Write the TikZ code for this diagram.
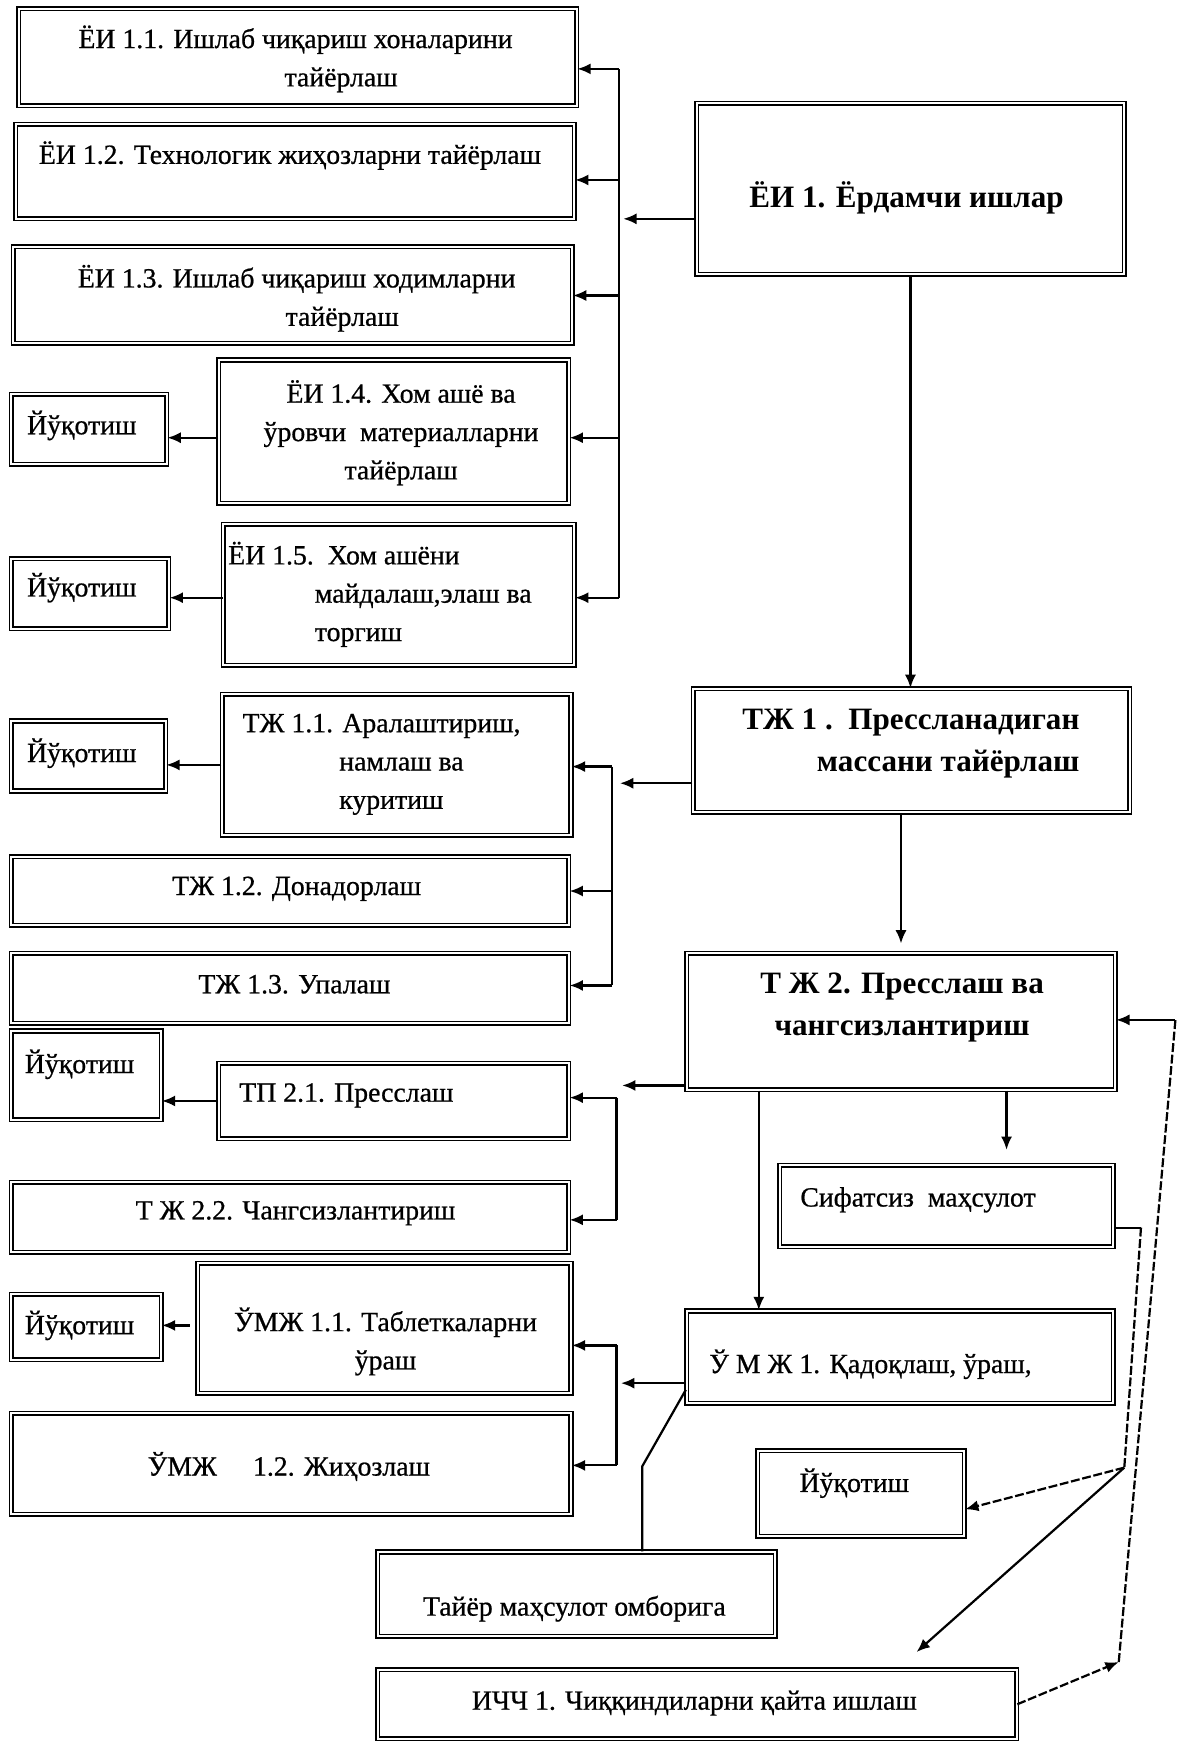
\documentclass[tikz,border=0pt]{standalone}
\usepackage{fontspec}
\setmainfont{Liberation Serif}
\newfontfamily\scanfont{Liberation Serif}[FakeBold=0.7]
\usetikzlibrary{arrows.meta,calc}
\newcommand\bx[5]{\node[bx, minimum width={(#4-#2)*0.5pt}, minimum height={(#5-#3)*0.5pt}] (#1) at ({(#2+#4)/2},{(#3+#5)/2}) {};}
\begin{document}
\begin{tikzpicture}[x=0.5pt,y=-0.5pt,
  bx/.style={draw=black, line width=0.7pt, double=white, double distance=0.9pt, rectangle, inner sep=0pt, fill=white},
  tx/.style={inner sep=0pt, font=\scanfont\fontsize{12.5}{17.25}\selectfont},
  txb/.style={inner sep=0pt, font=\fontsize{14}{18.75}\selectfont\bfseries},
  ln/.style={line width=1pt},
  arr/.style={ln, -{Latex[length=6pt,width=5pt]}},
  dsh/.style={dash pattern=on 4pt off 1.2pt}]
\fill[white] (0,0) rectangle (1061,1568);
\useasboundingbox (0,0) rectangle (1061,1568);

% boxes and texts
\bx{ei11}{17}{8}{519}{95}
\node[tx,align=center] (ei11t) at (266,53) {ЁИ 1.1. Ишлаб чиқариш хоналарини\\\hspace*{41pt}тайёрлаш};
\bx{ei12}{14}{112}{517}{197}
\node[tx] (ei12t) at (261,140) {ЁИ 1.2. Технологик жиҳозларни тайёрлаш};
\bx{ei13}{12}{222}{515}{309}
\node[tx,align=center] (ei13t) at (267,268.5) {ЁИ 1.3. Ишлаб чиқариш ходимларни\\\hspace*{41pt}тайёрлаш};
\bx{y1}{10}{355}{150}{418}
\node[tx,anchor=west] (y1t) at (24,383) {Йўқотиш};
\bx{ei14}{197}{324}{512}{453}
\node[tx,align=center] (ei14t) at (361,389.5) {ЁИ 1.4. Хом ашё ва\\ўровчи\ \ материалларни\\тайёрлаш};
\bx{y2}{10}{503}{152}{566}
\node[tx,anchor=west] (y2t) at (24,529) {Йўқотиш};
\bx{ei15}{201}{472}{517}{599}
\node[tx,anchor=west,align=left] (ei15t) at (205,535) {ЁИ 1.5.\ \ Хом ашёни\\\hspace*{39pt}майдалаш,элаш ва\\\hspace*{39pt}торгиш};
\bx{ei1}{627}{93}{1012}{247}
\node[txb] (ei1t) at (816,178) {ЁИ 1. Ёрдамчи ишлар};
\bx{tj1}{624}{620}{1017}{731}
\node[txb,anchor=east,align=right] (tj1t) at (972,669.5) {ТЖ 1 .\ \ Прессланадиган\\массани тайёрлаш};
\bx{y3}{10}{649}{149}{712}
\node[tx,anchor=west] (y3t) at (24,678) {Йўқотиш};
\bx{tj11}{200}{625}{514}{752}
\node[tx,anchor=west,align=left] (tj11t) at (218,688) {ТЖ 1.1. Аралаштириш,\\\hspace*{43.5pt}намлаш ва\\\hspace*{43.5pt}куритиш};
\bx{tj12}{10}{771}{512}{833}
\node[tx] (tj12t) at (267,800) {ТЖ 1.2. Донадорлаш};
\bx{tj13}{10}{858}{512}{921}
\node[tx] (tj13t) at (265,886) {ТЖ 1.3. Упалаш};
\bx{tj2}{618}{858}{1004}{981}
\node[txb,align=center] (tj2t) at (812,907) {Т Ж 2. Пресслаш ва\\чангсизлантириш};
\bx{y4}{10}{928}{145}{1008}
\node[tx,anchor=west] (y4t) at (22,958) {Йўқотиш};
\bx{tp21}{197}{957}{512}{1025}
\node[tx,anchor=west] (tp21t) at (215,986) {ТП 2.1. Пресслаш};
\bx{tj22}{10}{1064}{512}{1127}
\node[tx] (tj22t) at (266,1092) {Т Ж 2.2. Чангсизлантириш};
\bx{sif}{702}{1049}{1002}{1122}
\node[tx,anchor=west] (sift) at (720,1080) {Сифатсиз\ \ маҳсулот};
\bx{umj1}{618}{1180}{1002}{1263}
\node[tx,anchor=west] (umj1t) at (638,1228) {Ў М Ж 1. Қадоқлаш, ўраш,};
\bx{y5}{10}{1165}{145}{1224}
\node[tx,anchor=west] (y5t) at (22,1193) {Йўқотиш};
\bx{umj11}{178}{1137}{514}{1254}
\node[tx,align=center] (umj11t) at (347,1207.5) {ЎМЖ 1.1. Таблеткаларни\\ўраш};
\bx{umj12}{10}{1272}{514}{1363}
\node[tx] (umj12t) at (260,1320) {ЎМЖ\hspace{1.3em}1.2. Жиҳозлаш};
\bx{tayyor}{340}{1397}{698}{1473}
\node[tx] (tayyort) at (517,1448) {Тайёр маҳсулот омборига};
\bx{y6}{682}{1306}{868}{1383}
\node[tx] (y6t) at (769,1335) {Йўқотиш};
\bx{ich1}{340}{1503}{915}{1565}
\node[tx] (ich1t) at (625,1533) {ИЧЧ 1. Чиққиндиларни қайта ишлаш};

% bus A (EI)
\coordinate (ba1) at (557,62);
\coordinate (ba2) at (557,162);
\coordinate (ba3) at (557,266);
\coordinate (ba4) at (557,394);
\coordinate (ba5) at (557,538);
\coordinate (baIn) at (561,197);
\draw[ln] (ba1) -- (ba5);
\draw[arr] (ba1) -- (ei11.east |- ba1);
\draw[arr] (ba2) -- (ei12.east |- ba2);
\draw[arr] (ba3) -- (ei13.east |- ba3);
\draw[arr] (ba4) -- (ei14.east |- ba4);
\draw[arr] (ba5) -- (ei15.east |- ba5);
\draw[arr] (ei1.west |- baIn) -- (baIn);
\draw[arr] (ei14.west |- ba4) -- (y1.east |- ba4);
\draw[arr] (ei15.west |- ba5) -- (y2.east |- ba5);

% main chain
\draw[arr] (ei1.south) -- (ei1.south |- tj1.north);
\draw[arr, shorten >=4pt] (tj2.north |- tj1.south) -- (tj2.north);

% bus B (TJ1)
\coordinate (bb1) at (551,690);
\coordinate (bb2) at (551,802);
\coordinate (bb3) at (551,887);
\coordinate (bbIn) at (558,705);
\draw[ln] (bb1) -- (bb3);
\draw[arr] (bb1) -- (tj11.east |- bb1);
\draw[arr] (bb2) -- (tj12.east |- bb2);
\draw[arr] (bb3) -- (tj13.east |- bb3);
\draw[arr] (tj1.west |- bbIn) -- (bbIn);
\draw[arr] (tj11.west) -- (y3.east |- tj11.west);

% bus C (TJ2)
\coordinate (bc1) at (555,988);
\coordinate (bc2) at (555,1098);
\coordinate (bcIn) at (560,977);
\draw[ln] (bc1) -- (bc2);
\draw[arr] (bc1) -- (tp21.east |- bc1);
\draw[arr] (bc2) -- (tj22.east |- bc2);
\draw[arr] (tj2.west |- bcIn) -- (bcIn);
\draw[arr] (tp21.west) -- (y4.east |- tp21.west);

\coordinate (dn1) at (683,1100);
\draw[arr] (tj2.south -| dn1) -- (umj1.north -| dn1);
\coordinate (dn2) at (906,1035);
\draw[arr] (tj2.south -| dn2) -- (dn2);

% bus D (UMJ1)
\coordinate (bd1) at (555,1211);
\coordinate (bd2) at (555,1319);
\coordinate (bdIn) at (559,1245);
\draw[ln] (bd1) -- (bd2);
\draw[arr] (bd1) -- (umj11.east |- bd1);
\draw[arr] (bd2) -- (umj12.east |- bd2);
\draw[arr] (umj1.west |- bdIn) -- (bdIn);
\coordinate (e1) at (171,1193);
\draw[arr] (e1) -- (y5.east |- e1);

\coordinate (f0) at (616,1251);
\coordinate (f1) at (578,1320);
\draw[ln] (umj1.west |- f0) -- (f1) -- (f1 |- tayyor.north);

% right side loop
\coordinate (g1) at (1027,1105);
\coordinate (jn) at (1012,1321);
\coordinate (ichIn) at (825,1487);
\coordinate (h1) at (1007,1496);
\coordinate (h2) at (1058,918);
\draw[ln] (sif.east |- g1) -- (g1);
\draw[ln,dsh] (g1) -- (jn);
\draw[arr,dsh] (jn) -- ([yshift=-7pt]y6.east);
\draw[arr] (jn) -- (ichIn);
\draw[arr,dsh] (ich1.east) -- (h1);
\draw[ln,dsh] (h1) -- (h2);
\draw[arr] (h2) -- (tj2.east |- h2);
\end{tikzpicture}
\end{document}
